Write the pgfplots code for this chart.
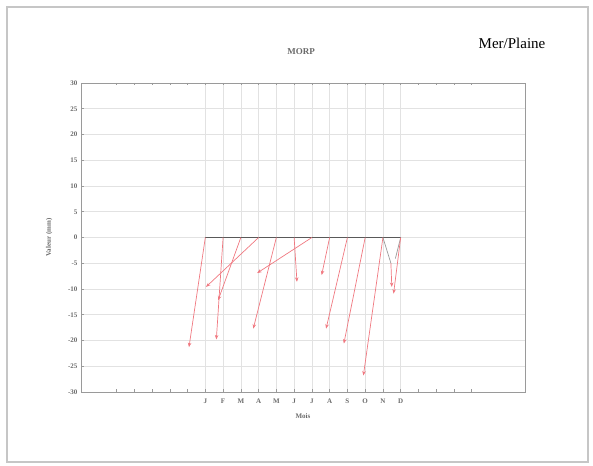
\documentclass[border=0pt]{standalone}
\usepackage{pgfplots}
\pgfplotsset{compat=1.18}
\usetikzlibrary{arrows.meta}
\usepackage{fontspec}
\setmainfont{Liberation Serif}
\definecolor{axgray}{HTML}{9A9A9A}
\definecolor{gridgray}{HTML}{E2E2E2}
\definecolor{txtgray}{HTML}{6A6A6A}
\definecolor{arrowred}{HTML}{F07880}
\pgfplotstableread{
x y u v
1 0 -0.92 -21.3
2 0 -0.38 -19.8
3 0 -1.28 -12.2
4 0 -2.96 -9.6
5 0 -1.30 -17.7
6 0 0.16 -8.6
7 0 -3.08 -6.9
8 0 -0.45 -7.3
9 0 -1.20 -17.7
10 0 -1.20 -20.6
11 0 -1.10 -26.8
12 0 -0.40 -10.9
11.45 -5 0.05 -4.6
}\arrows
\begin{document}
\begin{tikzpicture}
\useasboundingbox (0pt,0pt) rectangle (593pt,465pt);
\draw[gray!45, line width=1.2pt] (7pt,3pt) rectangle (588pt,458pt);
\node[font=\fontsize{15}{15}\selectfont, black] at (512pt,422pt) {Mer/Plaine};
\node[font=\fontsize{9}{9}\selectfont\bfseries, txtgray] at (301pt,413pt) {MORP};
\begin{axis}[
  at={(81pt,73pt)}, anchor=south west,
  scale only axis, width=444pt, height=309pt,
  xmin=-6, xmax=19, ymin=-30, ymax=30,
  xtick={1,...,12},
  xticklabels={J,F,M,A,M,J,J,A,S,O,N,D},
  minor xtick={-4,-3,-2,-1,0,13,14,15,16},
  ytick={-30,-25,...,30},
  xmajorgrids, ymajorgrids,
  major grid style={gridgray, line width=0.6pt},
  axis line style={axgray, line width=0.9pt},
  tick style={axgray, line width=0.6pt},
  major tick length=2.5pt, minor tick length=2.5pt,
  xtick pos=both, ytick pos=left,
  tick align=inside,
  ticklabel style={font=\fontsize{7}{7}\selectfont\bfseries, text=txtgray},
  /pgf/number format/assume math mode=true,
  xticklabel style={yshift=-3pt},
  xlabel={Mois}, ylabel={Valeur (mm)},
  xlabel style={font=\fontsize{7}{7}\selectfont\bfseries, text=txtgray, yshift=-4pt},
  ylabel style={font=\fontsize{7}{7}\selectfont\bfseries, text=txtgray, yshift=9pt},
  clip=false,
]
\addplot[black!65, line width=0.8pt] coordinates {(1,0) (12,0)};
\addplot[axgray, line width=0.7pt] coordinates {(11,0) (11.45,-5)};
\addplot[axgray, line width=0.7pt] coordinates {(12,0) (11.7,-4.1)};
\addplot[arrowred, line width=0.7pt, -{Stealth[length=4.5pt,width=3.5pt]},
  quiver={u=\thisrow{u}, v=\thisrow{v}}] table[x=x, y=y] {\arrows};
\end{axis}
\end{tikzpicture}
\end{document}
